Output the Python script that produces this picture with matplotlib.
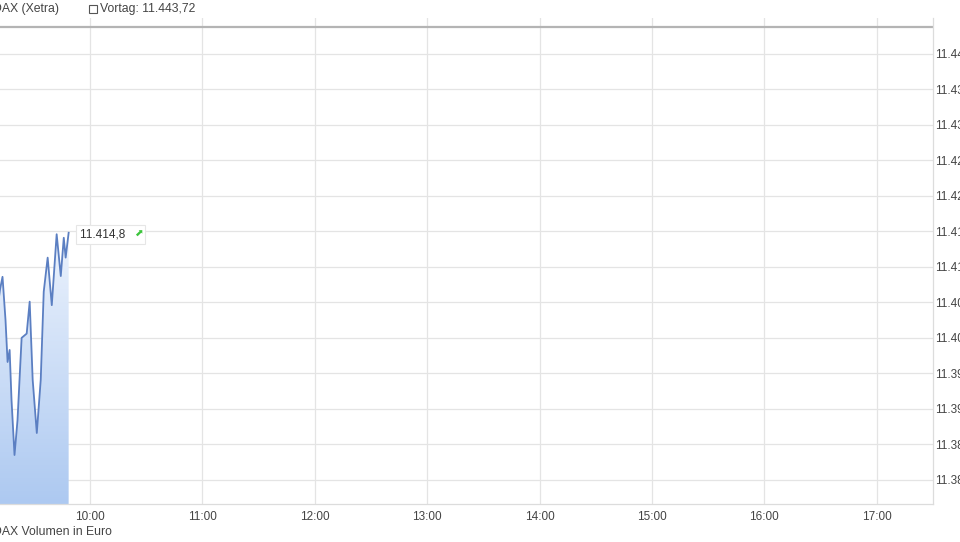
import matplotlib
matplotlib.use("Agg")
import matplotlib.pyplot as plt
from matplotlib.colors import LinearSegmentedColormap
import numpy as np

plt.rcParams['font.family'] = ['Liberation Sans', 'DejaVu Sans']

# Minuten nach 9:00 und Kurs (DAX Xetra)
minuten = [0, 3, 6, 9, 11.96, 13.3, 14.9, 16.0, 17.1, 18.1, 19.7, 21.3, 23.5, 26.2,
           27.8, 29.4, 31.6, 33.7, 35.3, 37.4, 39.6, 42.2, 44.4, 46.0, 47.0, 48.6]
kurs = [11398.0, 11404.0, 11395.0, 11401.0, 11406.8, 11408.6, 11402.5, 11396.6,
        11398.3, 11391.3, 11383.5, 11388.4, 11400.0, 11400.6, 11405.1, 11394.1,
        11386.6, 11394.1, 11406.5, 11411.3, 11404.6, 11414.6, 11408.7, 11414.1,
        11411.3, 11414.8]
vortag = 11443.72
stunden = ["10:00", "11:00", "12:00", "13:00", "14:00", "15:00", "16:00", "17:00"]
y_ticks = [11380, 11385, 11390, 11395, 11400, 11405, 11410, 11415, 11420,
           11425, 11430, 11435, 11440]

W, H = 960, 542
fig = plt.figure(figsize=(W / 100, H / 100), dpi=100)
fig.patch.set_facecolor("white")

links, rechts, oben, unten = -22.4, 933, 18, 504
ax = fig.add_axes([links / W, 1 - unten / H, (rechts - links) / W, (unten - oben) / H])

y_min, y_max = 11376.6, 11445.05
ax.set_xlim(0, 510)
ax.set_ylim(y_min, y_max)

# Gitter
for i in range(len(stunden)):
    ax.axvline(60 * (i + 1), color="#e4e4e4", lw=0.9, zorder=0)
for v in y_ticks:
    ax.axhline(v, color="#e4e4e4", lw=0.9, zorder=0)

# Vortag-Linie
ax.axhline(vortag, color="#b4b4b4", lw=1.6, zorder=1)

# Verlauf unter der Kurve
poly = ax.fill_between(minuten, kurs, y_min, color="none", lw=0)
cmap = LinearSegmentedColormap.from_list("blau", ["#adc9f1", "#eef4fd"])
grad = np.linspace(0, 1, 256).reshape(-1, 1)
img = ax.imshow(grad, cmap=cmap, aspect="auto", origin="lower",
                extent=[0, minuten[-1], y_min, 11416], zorder=2)
img.set_clip_path(poly.get_paths()[0], transform=ax.transData)

ax.plot(minuten, kurs, color="#5b7fc2", lw=1.3, zorder=3)

# letzter Kurs
ax.annotate("11.414,8     ", xy=(minuten[-1], kurs[-1]), xytext=(8, -1),
            textcoords="offset points", fontsize=8.5, color="#333333", va="center",
            bbox=dict(boxstyle="square,pad=0.3", fc="white", ec="#e6e6e6", lw=0.8),
            zorder=5)
ax.annotate("\u2b08", xy=(minuten[-1], kurs[-1]), xytext=(47, -1),
            textcoords="offset points", fontsize=7.5, color="#3cc43c", va="center",
            family="DejaVu Sans", zorder=6)

ax.set_xticks([60 * (i + 1) for i in range(len(stunden))])
ax.set_xticklabels(stunden)
ax.yaxis.tick_right()
ax.set_yticks(y_ticks)
ax.set_yticklabels([f"{v / 1000:.3f}" for v in y_ticks])
ax.tick_params(axis="both", length=0, labelsize=8.5, labelcolor="#444444")
ax.tick_params(axis="x", pad=5)
ax.tick_params(axis="y", pad=1.5)

for s in ["top", "left"]:
    ax.spines[s].set_visible(False)
for s in ["right", "bottom"]:
    ax.spines[s].set_color("#dcdcdc")
    ax.spines[s].set_linewidth(0.9)

# Kopf- und Fußzeile
fig.text(-7 / W, 1 - 9 / H, "DAX (Xetra)", fontsize=8.8, color="#444444", va="center")
fig.patches.append(plt.Rectangle((89 / W, 1 - 13 / H), 8 / W, 8 / H, fill=False,
                                 ec="#555555", lw=0.8, transform=fig.transFigure))
fig.text(100 / W, 1 - 9 / H, "Vortag: 11.443,72", fontsize=8.8, color="#444444", va="center")
fig.text(-7 / W, 1 - 532 / H, "DAX Volumen in Euro", fontsize=8.8, color="#444444", va="center")

plt.savefig("out.png", dpi=100)
